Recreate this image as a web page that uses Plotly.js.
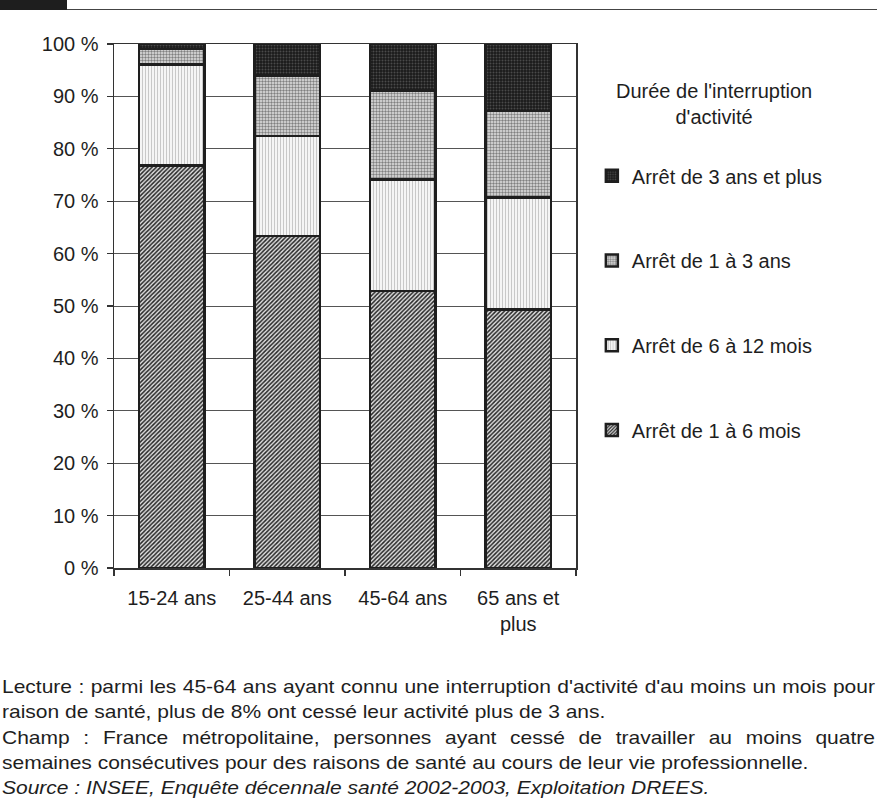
<!DOCTYPE html>
<html lang="fr">
<head>
<meta charset="utf-8">
<script src="https://cdn.plot.ly/plotly-3.0.1.min.js"></script>
<style>
  html, body { margin: 0; padding: 0; background: #fff; }
  #page { position: relative; width: 877px; height: 805px; overflow: hidden; }
  #chart { position: absolute; left: 0; top: 0; width: 877px; height: 805px; }
  .head-block { position: absolute; left: 0; top: 0; width: 67px; height: 10px; background: #1e1e1e; }
  .head-rule { position: absolute; left: 67px; top: 8.5px; width: 810px; height: 1.5px; background: #444; }
  #notes {
    position: absolute; left: 2px; top: 674px; width: 790px;
    transform: scaleX(1.105); transform-origin: 0 0;
    font-family: "Liberation Sans", Arial, sans-serif; font-size: 19px;
    line-height: 25.25px; color: #1e1e1e;
  }
  #notes div { white-space: nowrap; }
  #notes .just { text-align: justify; text-align-last: justify; }
  #notes .src { font-style: italic; }
</style>
</head>
<body>
<div id="page">
  <div id="chart"></div>
  <div class="head-block"></div>
  <div class="head-rule"></div>
  <div id="notes">
    <div class="just">Lecture : parmi les 45-64 ans ayant connu une interruption d'activité d'au moins un mois pour</div>
    <div>raison de santé, plus de 8% ont cessé leur activité plus de 3 ans.</div>
    <div class="just">Champ : France métropolitaine, personnes ayant cessé de travailler au moins quatre</div>
    <div>semaines consécutives pour des raisons de santé au cours de leur vie professionnelle.</div>
    <div class="src">Source : INSEE, Enquête décennale santé 2002-2003, Exploitation DREES.</div>
  </div>
</div>
<script>
// Age groups on the x axis
const ageGroups = ['15-24 ans', '25-44 ans', '45-64 ans', '65 ans et<br>plus'];

// Share (%) of each duration of work interruption, per age group
const arret1a6Mois = [76.8, 63.4, 52.9, 49.3];
const arret6a12Mois = [19.3, 19.0, 21.2, 21.4];
const arret1a3Ans = [2.9, 11.6, 17.0, 16.5];
const arret3AnsEtPlus = [1.0, 6.0, 8.9, 12.8];

// Series names shown in the legend
const seriesNames = [
  'Arrêt de 1 à 6 mois',
  'Arrêt de 6 à 12 mois',
  'Arrêt de 1 à 3 ans',
  'Arrêt de 3 ans et plus'
];
const legendTitle = "Durée de l'interruption<br>d'activité";

const FONT = '"Liberation Sans", Arial, sans-serif';
const INK = '#1e1e1e';
const outline = { color: INK, width: 2.5 };

function stack(values, name, rank, pattern) {
  return {
    type: 'bar',
    x: ageGroups,
    y: values,
    name: name,
    legendgroup: 'g' + rank,
    legendrank: rank,
    marker: { color: pattern.bgcolor, line: outline, pattern: pattern },
    hoverinfo: 'skip'
  };
}

// Longest interruption is listed first in the legend
const traces = [
  stack(arret1a6Mois, seriesNames[0], 4,
    { shape: '/', bgcolor: '#e0e0e0', fgcolor: '#262626', size: 3, solidity: 0.5, fillmode: 'replace' }),
  stack(arret6a12Mois, seriesNames[1], 3,
    { shape: '|', bgcolor: '#f5f5f5', fgcolor: '#c8c8c8', size: 3, solidity: 0.35, fillmode: 'replace' }),
  stack(arret1a3Ans, seriesNames[2], 2,
    { shape: '.', bgcolor: '#e4e4e4', fgcolor: '#808080', size: 3, solidity: 0.5, fillmode: 'replace' }),
  stack(arret3AnsEtPlus, seriesNames[3], 1,
    { shape: '.', bgcolor: '#1a1a1a', fgcolor: '#4a4a4a', size: 3, solidity: 0.35, fillmode: 'replace' })
];

const layout = {
  width: 877,
  height: 805,
  margin: { l: 114, r: 301, t: 44, b: 237 },
  paper_bgcolor: '#ffffff',
  plot_bgcolor: '#ffffff',
  font: { family: FONT, size: 20, color: INK },
  barmode: 'stack',
  bargap: 0.435,
  showlegend: true,
  xaxis: {
    type: 'category',
    showline: true, mirror: true, linecolor: '#333', linewidth: 1.5,
    ticks: 'outside', tickson: 'boundaries', ticklen: 6, tickcolor: '#333', tickwidth: 1.3,
    ticklabelstandoff: 11,
    showgrid: false, zeroline: false, fixedrange: true,
    tickfont: { family: FONT, size: 20, color: INK }
  },
  yaxis: {
    range: [0, 100], dtick: 10, ticksuffix: ' %',
    showline: true, mirror: true, linecolor: '#333', linewidth: 1.5,
    ticks: 'outside', ticklen: 6, tickcolor: '#333', tickwidth: 1.3,
    ticklabelstandoff: 4,
    showgrid: true, gridcolor: '#555', gridwidth: 1,
    zeroline: false, fixedrange: true,
    tickfont: { family: FONT, size: 20, color: INK }
  },
  legend: {
    x: 1.0343, y: 0.7857, xanchor: 'left', yanchor: 'top',
    traceorder: 'grouped',
    tracegroupgap: 55.7,
    bgcolor: 'rgba(0,0,0,0)',
    font: { family: FONT, size: 20, color: INK },
    itemclick: false, itemdoubleclick: false
  },
  annotations: [{
    text: legendTitle,
    xref: 'paper', yref: 'paper',
    x: 1.2987, y: 0.8853, xanchor: 'center', yanchor: 'middle',
    align: 'center', showarrow: false,
    font: { family: FONT, size: 20, color: INK }
  }]
};

Plotly.newPlot('chart', traces, layout, { displayModeBar: false, staticPlot: true });
</script>
</body>
</html>
